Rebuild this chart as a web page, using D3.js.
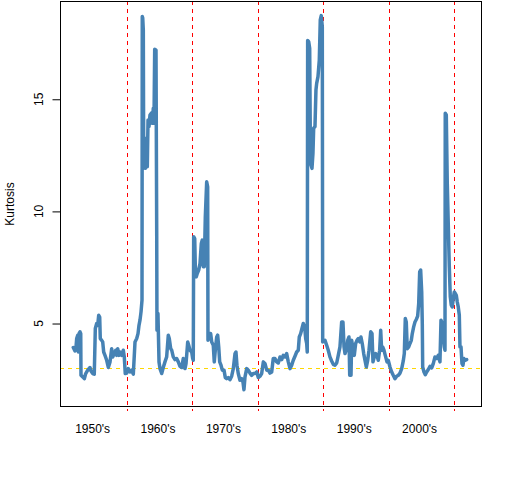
<!DOCTYPE html>
<html>
<head>
<meta charset="utf-8">
<script src="https://cdn.jsdelivr.net/npm/d3@7"></script>
<style>
  body { margin: 0; background: #fff; }
  text { font-family: "Liberation Sans", Arial, sans-serif; font-size: 12px; fill: #000; }
</style>
</head>
<body>
<script>
// rolling kurtosis (year, value)
var years = [
  1951.79, 1952.05, 1952.21, 1952.31, 1952.47, 1952.56, 1952.67, 1952.82, 1952.93, 1952.97,
  1953.23, 1953.48, 1953.69, 1954.00, 1954.35, 1954.50, 1954.76, 1955.00, 1955.16, 1955.37,
  1955.52, 1955.68, 1955.83, 1955.92, 1956.14, 1956.29, 1956.44, 1956.64, 1956.90, 1957.15,
  1957.41, 1957.66, 1957.82, 1958.06, 1958.28, 1958.43, 1958.58, 1958.78, 1958.98, 1959.19,
  1959.44, 1959.59, 1959.74, 1959.96, 1960.20, 1960.46, 1960.72, 1960.97, 1961.23, 1961.49,
  1961.69, 1961.84, 1961.99, 1962.15, 1962.30, 1962.34, 1962.41, 1962.50, 1962.56, 1962.71,
  1962.80, 1962.96, 1963.11, 1963.22, 1963.37, 1963.52, 1963.72, 1963.87, 1964.03, 1964.13,
  1964.24, 1964.44, 1964.55, 1964.59, 1964.74, 1964.90, 1965.05, 1965.31, 1965.55, 1965.81,
  1966.07, 1966.32, 1966.47, 1966.69, 1966.84, 1967.08, 1967.34, 1967.60, 1967.85, 1968.11,
  1968.37, 1968.61, 1968.87, 1969.03, 1969.29, 1969.44, 1969.64, 1969.90, 1970.05, 1970.14,
  1970.20, 1970.36, 1970.45, 1970.60, 1970.75, 1970.97, 1971.17, 1971.37, 1971.52, 1971.67,
  1971.82, 1971.98, 1972.19, 1972.34, 1972.39, 1972.54, 1972.80, 1972.96, 1973.20, 1973.35,
  1973.51, 1973.72, 1973.87, 1974.03, 1974.18, 1974.38, 1974.58, 1974.84, 1975.04, 1975.25,
  1975.49, 1975.75, 1976.01, 1976.26, 1976.52, 1976.67, 1976.82, 1977.02, 1977.28, 1977.54,
  1977.74, 1977.89, 1978.05, 1978.31, 1978.55, 1978.81, 1979.07, 1979.32, 1979.58, 1979.84,
  1980.08, 1980.34, 1980.60, 1980.85, 1981.11, 1981.37, 1981.61, 1981.87, 1982.13, 1982.37,
  1982.63, 1982.89, 1983.14, 1983.40, 1983.66, 1983.90, 1984.16, 1984.42, 1984.67, 1984.93,
  1985.19, 1985.43, 1985.69, 1985.95, 1986.20, 1986.35, 1986.56, 1986.76, 1986.96, 1987.18,
  1987.33, 1987.48, 1987.57, 1987.63, 1987.79, 1987.94, 1988.03, 1988.14, 1988.29, 1988.44,
  1988.55, 1988.75, 1988.90, 1989.01, 1989.21, 1989.41, 1989.56, 1989.71, 1989.87, 1989.93,
  1990.28, 1990.54, 1990.78, 1991.04, 1991.30, 1991.55, 1991.81, 1992.07, 1992.31, 1992.57,
  1992.83, 1993.03, 1993.19, 1993.34, 1993.60, 1993.75, 1993.95, 1994.06, 1994.26, 1994.36,
  1994.56, 1994.76, 1994.97, 1995.17, 1995.37, 1995.59, 1995.78, 1995.98, 1996.20, 1996.40,
  1996.60, 1996.81, 1997.01, 1997.27, 1997.47, 1997.62, 1997.82, 1998.03, 1998.23, 1998.43,
  1998.64, 1998.80, 1998.95, 1999.10, 1999.30, 1999.50, 1999.76, 1999.96, 2000.22, 2000.48,
  2000.72, 2000.98, 2001.24, 2001.49, 2001.75, 2002.01, 2002.25, 2002.41, 2002.56, 2002.71,
  2002.86, 2003.08, 2003.28, 2003.48, 2003.63, 2003.84, 2004.04, 2004.24, 2004.45, 2004.61,
  2004.76, 2004.91, 2005.07, 2005.16, 2005.22, 2005.42, 2005.62, 2005.83, 2006.08, 2006.34,
  2006.60, 2006.84, 2007.10, 2007.36, 2007.60, 2007.86, 2008.02, 2008.22, 2008.37, 2008.52,
  2008.63, 2008.67, 2008.83, 2008.98, 2009.13, 2009.29, 2009.44, 2009.59, 2009.74, 2009.90,
  2010.05, 2010.20, 2010.36, 2010.51, 2010.66, 2010.82, 2010.92, 2011.08, 2011.23, 2011.38,
  2011.53, 2011.69, 2011.95
];
var kurtosis = [
  3.93, 3.78, 3.96, 4.33, 4.48, 3.73, 4.55, 4.63, 4.55, 2.69,
  2.62, 2.54, 2.77, 2.92, 3.04, 2.88, 2.77, 2.74, 4.78, 5.00,
  4.92, 5.37, 5.29, 4.33, 4.25, 4.18, 3.73, 3.58, 3.36, 3.04,
  3.29, 3.88, 3.51, 3.66, 3.81, 3.58, 3.88, 3.58, 3.73, 3.58,
  3.81, 3.51, 2.77, 2.79, 2.99, 2.84, 2.92, 2.74, 4.18, 4.33,
  4.55, 4.92, 5.15, 5.52, 6.04, 18.69, 18.62, 18.09, 11.99, 13.18,
  11.92, 13.26, 11.99, 14.08, 13.78, 14.30, 14.38, 13.93, 14.60, 13.93,
  17.23, 17.20, 8.87, 4.70, 5.45, 3.29, 2.99, 2.77, 3.04, 3.29,
  3.51, 4.48, 4.33, 3.88, 3.81, 3.51, 3.39, 3.44, 3.29, 3.09,
  3.04, 3.44, 2.99, 3.21, 4.18, 4.03, 3.81, 3.73, 3.44, 3.36,
  8.87, 8.79, 7.53, 7.08, 7.23, 7.38, 7.68, 8.57, 8.72, 7.53,
  7.53, 9.76, 11.32, 11.10, 4.25, 4.55, 4.55, 4.18, 4.03, 3.29,
  3.81, 4.40, 4.48, 3.96, 3.29, 3.14, 2.92, 2.92, 2.59, 2.54,
  2.59, 2.50, 2.65, 2.99, 3.66, 3.73, 3.14, 2.77, 2.47, 2.54,
  2.39, 2.05, 2.62, 2.99, 2.92, 2.79, 2.69, 2.77, 2.77, 2.84,
  2.59, 2.65, 2.77, 3.29, 3.21, 2.92, 2.92, 2.79, 2.84, 3.44,
  3.44, 3.29, 3.24, 3.51, 3.39, 3.58, 3.51, 3.66, 3.29, 2.99,
  3.14, 3.36, 3.54, 3.73, 3.81, 4.40, 4.55, 4.78, 5.00, 4.85,
  4.33, 4.11, 3.73, 17.62, 17.57, 17.28, 13.48, 12.07, 11.92, 12.59,
  13.71, 13.78, 15.42, 15.71, 16.01, 16.75, 18.54, 18.73, 18.24, 4.18,
  4.25, 4.03, 3.81, 3.51, 3.33, 3.18, 3.14, 3.24, 3.58, 3.96,
  5.07, 5.07, 3.96, 3.66, 3.88, 4.25, 4.40, 2.69, 2.69, 4.25,
  3.88, 3.58, 4.11, 4.25, 4.33, 4.18, 4.40, 4.11, 3.66, 3.36,
  3.06, 3.36, 3.81, 4.63, 4.55, 3.29, 3.51, 3.66, 3.58, 3.36,
  3.81, 4.70, 3.81, 3.96, 3.81, 3.58, 3.29, 3.36, 3.06, 2.84,
  2.69, 2.54, 2.65, 2.69, 2.79, 2.99, 3.33, 3.66, 5.22, 5.07,
  3.88, 3.96, 4.11, 4.25, 4.55, 4.85, 5.07, 5.18, 5.33, 5.89,
  7.30, 7.38, 6.41, 5.00, 3.06, 2.84, 2.72, 2.84, 2.95, 3.09,
  3.02, 3.21, 3.51, 3.44, 3.58, 3.29, 5.15, 5.00, 4.40, 3.96,
  3.81, 14.38, 14.30, 11.25, 9.46, 7.53, 6.19, 5.82, 5.74, 6.12,
  6.41, 6.34, 6.26, 5.96, 5.74, 5.37, 3.96, 3.96, 3.21, 3.14,
  3.44, 3.36, 3.39
];
var decadeBreaks = [1960, 1970, 1980, 1990, 2000, 2010];
var decadeLabels = ["1950's", "1960's", "1970's", "1980's", "1990's", "2000's"];
var labelYears = [1954.75, 1964.75, 1974.75, 1984.75, 1994.75, 2004.75];
var yTicks = [5, 10, 15];
var normalLevel = 3;

var width = 512,
    height = 480,
    plotLeft = 60, plotRight = 482, plotTop = 1.5, plotBottom = 406.5;

var svg = d3.select("body")
    .append("svg")
    .attr("width", width)
    .attr("height", height);

var x = d3.scaleLinear()
    .domain([1949.76, 2014.29])
    .range([plotLeft, plotRight]);

var y = d3.scaleLinear()
    .domain([1.3, 19.36])
    .range([plotBottom, plotTop]);

//reference line at normal kurtosis
svg.append("line")
    .attr("x1", plotLeft).attr("x2", plotRight)
    .attr("y1", Math.round(y(normalLevel)) + 0.5).attr("y2", Math.round(y(normalLevel)) + 0.5)
    .attr("stroke", "#FFD700")
    .attr("stroke-dasharray", "4,4");

//decade separators
svg.selectAll(".decade")
    .data(decadeBreaks)
    .enter()
    .append("line")
    .attr("class", "decade")
    .attr("x1", function(d) { return Math.round(x(d)) + 0.5; })
    .attr("x2", function(d) { return Math.round(x(d)) + 0.5; })
    .attr("y1", 1)
    .attr("y2", 411)
    .attr("stroke", "#FF0000")
    .attr("stroke-dasharray", "4,4");

//the series
var line = d3.line()
    .x(function(d) { return x(d[0]); })
    .y(function(d) { return y(d[1]); });

svg.append("path")
    .datum(d3.zip(years, kurtosis))
    .attr("d", line)
    .attr("fill", "none")
    .attr("stroke", "steelblue")
    .attr("stroke-width", 3.5)
    .attr("stroke-linejoin", "round")
    .attr("stroke-linecap", "round");

//plot box
svg.append("rect")
    .attr("x", plotLeft + 0.5)
    .attr("y", plotTop)
    .attr("width", plotRight - plotLeft - 1)
    .attr("height", plotBottom - plotTop)
    .attr("fill", "none")
    .attr("stroke", "#000");

//y axis, R style with rotated labels
var yAxis = svg.append("g")
    .attr("transform", "translate(" + (plotLeft + 0.5) + ",0)")
    .call(d3.axisLeft(y).tickValues(yTicks).tickSize(8).tickPadding(0));
yAxis.select(".domain").remove();
yAxis.selectAll("text").remove();

svg.selectAll(".ylab")
    .data(yTicks)
    .enter()
    .append("text")
    .attr("class", "ylab")
    .attr("transform", function(d) { return "translate(43," + y(d) + ") rotate(-90)"; })
    .attr("text-anchor", "middle")
    .text(function(d) { return d; });

svg.append("text")
    .attr("transform", "translate(14," + ((plotTop + plotBottom) / 2) + ") rotate(-90)")
    .attr("text-anchor", "middle")
    .text("Kurtosis");

//decade labels
svg.selectAll(".xlab")
    .data(decadeLabels)
    .enter()
    .append("text")
    .attr("class", "xlab")
    .attr("x", function(d, i) { return x(labelYears[i]); })
    .attr("y", 433)
    .attr("text-anchor", "middle")
    .text(function(d) { return d; });
</script>
</body>
</html>
